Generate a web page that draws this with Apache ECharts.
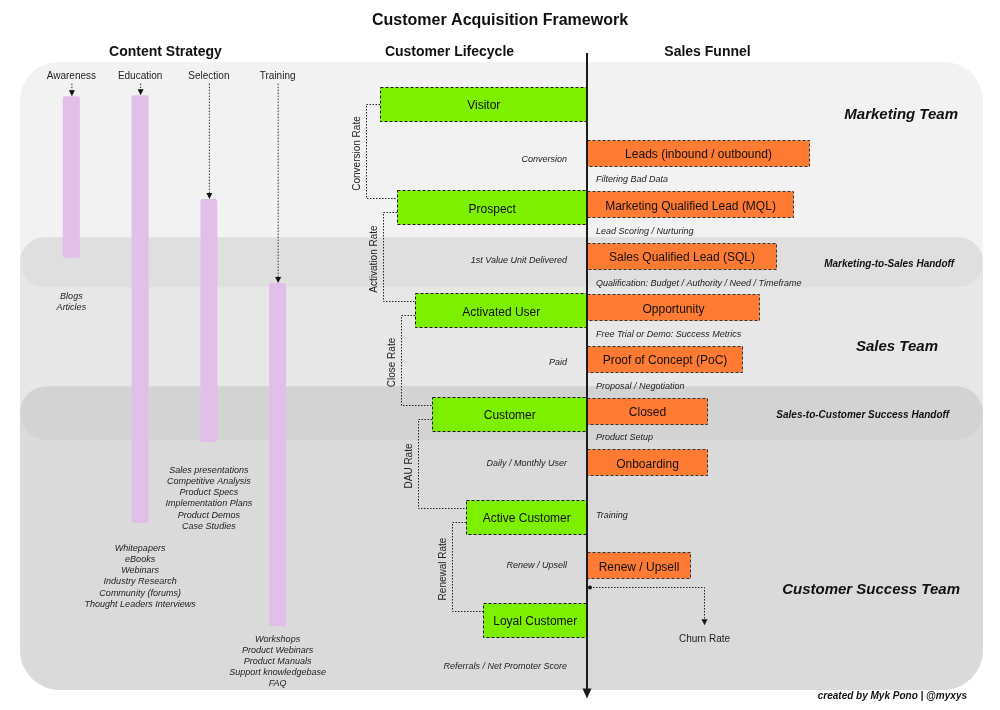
<!DOCTYPE html>
<html><head><meta charset="utf-8">
<script src="https://cdn.jsdelivr.net/npm/echarts@6/dist/echarts.min.js"></script>
<style>html,body{margin:0;padding:0;background:#fff}#c{width:1000px;height:710px}</style>
</head><body><div id="c"></div>
<script>
// ================= DATA =================
// Customer lifecycle (left of spine); rows = lifecycle steps, width = extent of the stage box
const lifecycleStages = ['Visitor', 'Prospect', 'Activated User', 'Customer', 'Active Customer', 'Loyal Customer'];
const lifecycleRows = [0, 2, 4, 6, 8, 10];
const lifecycleWidth = [207, 190, 172, 155, 121, 104];
const lifecycleRates = ['Conversion Rate', 'Activation Rate', 'Close Rate', 'DAU Rate', 'Renewal Rate'];
const lifecycleEvents = ['Conversion', '1st Value Unit Delivered', 'Paid', 'Daily / Monthly User', 'Renew / Upsell', 'Referrals / Net Promoter Score'];
const lifecycleEventRows = [1.05, 3.0, 4.98, 6.93, 8.92, 10.88];

// Sales funnel (right of spine)
const funnelStages = ['Leads (inbound / outbound)', 'Marketing Qualified Lead (MQL)', 'Sales Qualified Lead (SQL)', 'Opportunity', 'Proof of Concept (PoC)', 'Closed', 'Onboarding', 'Renew / Upsell'];
const funnelRows = [1, 2, 3, 4, 5, 6, 7, 9];
const funnelWidth = [222, 206, 189, 172, 155, 120, 120, 103];
const funnelSteps = ['Filtering Bad Data', 'Lead Scoring / Nurturing', 'Qualification: Budget / Authority / Need / Timeframe', 'Free Trial or Demo: Success Metrics', 'Proposal / Negotiation', 'Product Setup', 'Training'];
const funnelStepRows = [1.5, 2.5, 3.5, 4.5, 5.5, 6.5, 8];
const churnLabel = 'Churn Rate';
const churnRow = [9.36, 10.1];
const churnReach = 117;

// Content strategy (vertical spans in lifecycle rows)
const contentStages = ['Awareness', 'Education', 'Selection', 'Training'];
const contentStartRow = [-0.15, -0.17, 1.84, 3.47];
const contentEndRow = [2.98, 8.12, 6.55, 10.12];
const contentTopics = [
  ['Blogs', 'Articles'],
  ['Whitepapers', 'eBooks', 'Webinars', 'Industry Research', 'Community (forums)', 'Thought Leaders Interviews'],
  ['Sales presentations', 'Competitive Analysis', 'Product Specs', 'Implementation Plans', 'Product Demos', 'Case Studies'],
  ['Workshops', 'Product Webinars', 'Product Manuals', 'Support knowledgebase', 'FAQ']
];
const contentTopicRow = [3.70, 8.58, 7.07, 10.34];

// Teams and handoffs (row spans)
const teamNames = ['Marketing Team', 'Sales Team', 'Customer Success Team'];
const teamStartRow = [-0.81, 3.07, 5.99];
const handoffNames = ['Marketing-to-Sales Handoff', 'Sales-to-Customer Success Handoff'];
const handoffStartRow = [2.58, 5.47];
const handoffEndRow = [3.55, 6.51];

// ================= LAYOUT / STYLE =================
const ROW_PX = 51.6;
const Y_MIN = -104 / ROW_PX;
const Y_MAX = Y_MIN + 710 / ROW_PX;
const FONT = '"Liberation Sans", Arial, Helvetica, sans-serif';
const GREEN = '#7df000', ORANGE = '#ff7a33', PURPLE = '#e2bfe8';
const TEAM_FILL = ['#f2f2f2', '#e7e7e7', '#dadada'];
const HANDOFF_FILL = ['#dfdfdf', '#d3d3d3'];
const REGION_LEFT = -567, REGION_RIGHT = 396, REGION_BOTTOM = 11.357;
const TEAM_LABEL_RIGHT = [371, 351, 373];
const TEAM_LABEL_ROW = [0.19, 4.68, 9.39];
const HANDOFF_LABEL_RIGHT = [367, 362];
const SPINE_TOP = -0.988, SPINE_BOTTOM = 11.52;
const HEADER_ROW = -0.57;
const FUNNEL_SHIFT = -3;
const TEXT_NUDGE = 1.5;

function font(size, weight, style) {
  return (style || 'normal') + ' ' + (weight || 'normal') + ' ' + size + 'px ' + FONT;
}
function txt(text, x, y, f, align, vAlign, fill, extra) {
  const nudge = (extra && extra.rotation) ? 0 : TEXT_NUDGE;
  return Object.assign({
    type: 'text', x: x, y: y + nudge,
    style: { text: text, x: 0, y: 0, font: f, align: align, textAlign: align,
      verticalAlign: vAlign, textVerticalAlign: vAlign, fill: fill || '#111' }
  }, extra || {});
}
function arrowDown(x, tipY, w, h, color) {
  return { type: 'polygon', shape: { points: [[x - w / 2, tipY - h], [x + w / 2, tipY - h], [x, tipY]] }, style: { fill: color || '#111' } };
}
const DOT = [1.5, 1.5];

const chart = echarts.init(document.getElementById('c'), null, { renderer: 'canvas' });

const yAx = (gi) => ({ type: 'value', gridIndex: gi, inverse: true, min: Y_MIN, max: Y_MAX, show: false });

const option = {
  animation: false,
  backgroundColor: '#ffffff',
  title: {
    text: 'Customer Acquisition Framework', left: 'center', top: 8,
    textStyle: { fontSize: 16, fontWeight: 'bold', color: '#111', fontFamily: FONT }
  },
  grid: [
    { left: 0, top: 0, width: 1000, height: 710, containLabel: false },
    { left: 37, top: 0, width: 275, height: 710, containLabel: false }
  ],
  xAxis: [
    { type: 'value', gridIndex: 0, min: -587, max: 413, show: false },
    { type: 'category', gridIndex: 1, data: contentStages, boundaryGap: true, show: false }
  ],
  yAxis: [yAx(0), yAx(1)],
  graphic: [
    txt('Content Strategy', 165.5, 51, font(14, 'bold'), 'center', 'middle'),
    txt('Customer Lifecycle', 449.5, 51, font(14, 'bold'), 'center', 'middle'),
    txt('Sales Funnel', 707.5, 51, font(14, 'bold'), 'center', 'middle'),
    txt('created by Myk Pono | @myxys', 967, 695, font(10, 'bold', 'italic'), 'right', 'middle', '#111')
  ].map(g => Object.assign(g, { z: 100 })),
  series: [
    // Team regions
    {
      type: 'custom', xAxisIndex: 0, yAxisIndex: 0, z: 1, silent: true, clip: false,
      data: teamNames.map((n, i) => [REGION_LEFT, teamStartRow[i]]),
      renderItem(params, api) {
        const i = params.dataIndex;
        const a = api.coord([api.value(0), api.value(1)]);
        const b = api.coord([REGION_RIGHT, REGION_BOTTOM]);
        const l = api.coord([TEAM_LABEL_RIGHT[i], TEAM_LABEL_ROW[i]]);
        return { type: 'group', children: [
          { type: 'rect', shape: { x: a[0], y: a[1], width: b[0] - a[0], height: b[1] - a[1], r: i === 0 ? [38, 38, 40, 40] : [0, 0, 40, 40] },
            style: { fill: TEAM_FILL[i] } },
          txt(teamNames[i], l[0], l[1], font(15, 'bold', 'italic'), 'right', 'middle', '#111', { z2: 10 })
        ] };
      }
    },
    // Handoff bands
    {
      type: 'custom', xAxisIndex: 0, yAxisIndex: 0, z: 2, silent: true, clip: false,
      data: handoffNames.map((n, i) => [REGION_LEFT, handoffStartRow[i], REGION_RIGHT, handoffEndRow[i]]),
      renderItem(params, api) {
        const i = params.dataIndex;
        const a = api.coord([api.value(0), api.value(1)]);
        const b = api.coord([api.value(2), api.value(3)]);
        const h = b[1] - a[1];
        const l = api.coord([HANDOFF_LABEL_RIGHT[i], (api.value(1) + api.value(3)) / 2]);
        return { type: 'group', children: [
          { type: 'rect', shape: { x: a[0], y: a[1], width: b[0] - a[0], height: h, r: h / 2 }, style: { fill: HANDOFF_FILL[i] } },
          txt(handoffNames[i], l[0], l[1] + 1, font(10, 'bold', 'italic'), 'right', 'middle', '#111', { z2: 10 })
        ] };
      }
    },
    // Content strategy bars
    {
      type: 'custom', xAxisIndex: 1, yAxisIndex: 1, z: 3, silent: true, clip: false,
      data: contentStages.map((n, i) => [i, contentStartRow[i], contentEndRow[i], contentTopicRow[i]]),
      encode: { x: 0, y: [1, 2] },
      renderItem(params, api) {
        const i = params.dataIndex;
        const top = api.coord([api.value(0), api.value(1)]);
        const bot = api.coord([api.value(0), api.value(2)]);
        const hd = api.coord([api.value(0), HEADER_ROW]);
        const tp = api.coord([api.value(0), api.value(3)]);
        const x = top[0];
        const w = 17;
        const children = [
          txt(contentStages[i], x, hd[1], font(10), 'center', 'middle', '#222'),
          { type: 'polyline', shape: { points: [[x + 0.5, hd[1] + 9], [x + 0.5, top[1] - 5]] }, style: { stroke: '#333', lineWidth: 1, lineDash: DOT, fill: null } },
          arrowDown(x + 0.5, top[1], 6, 6, '#111'),
          { type: 'rect', shape: { x: x - w / 2, y: top[1], width: w, height: bot[1] - top[1], r: 2 }, style: { fill: PURPLE } }
        ];
        contentTopics[i].forEach((t, k) => {
          children.push(txt(t, x, tp[1] + k * 11.2, font(9, 'normal', 'italic'), 'center', 'middle', '#222'));
        });
        return { type: 'group', children };
      }
    },
    // Rate brackets
    {
      type: 'custom', xAxisIndex: 0, yAxisIndex: 0, z: 3, silent: true, clip: false,
      data: lifecycleRates.map((n, i) => [-lifecycleWidth[i], lifecycleRows[i], -lifecycleWidth[i + 1], lifecycleRows[i + 1]]),
      encode: { x: [0, 2], y: [1, 3] },
      renderItem(params, api) {
        const i = params.dataIndex;
        const p1 = api.coord([api.value(0), api.value(1)]);
        const p2 = api.coord([api.value(2), api.value(3)]);
        const bx = Math.round(p1[0] - 14) + 0.5;
        const y1 = Math.round(p1[1] + (i === 0 ? 0 : 5)) + 0.5;
        const y2 = Math.round(p2[1] - 9) + 0.5;
        return { type: 'group', children: [
          { type: 'polyline', shape: { points: [[p1[0], y1], [bx, y1], [bx, y2], [p2[0], y2]] }, style: { stroke: '#222', lineWidth: 1, lineDash: DOT, fill: null } },
          txt(lifecycleRates[i], bx - 9, (y1 + y2) / 2 + 2, font(10), 'center', 'middle', '#222', { rotation: Math.PI / 2 })
        ] };
      }
    },
    // Lifecycle event labels
    {
      type: 'custom', xAxisIndex: 0, yAxisIndex: 0, z: 4, silent: true, clip: false,
      data: lifecycleEvents.map((n, i) => [0, lifecycleEventRows[i]]),
      renderItem(params, api) {
        const p = api.coord([api.value(0), api.value(1)]);
        return txt(lifecycleEvents[params.dataIndex], p[0] - 20, p[1], font(9, 'normal', 'italic'), 'right', 'middle', '#222');
      }
    },
    // Lifecycle stage boxes
    {
      type: 'custom', xAxisIndex: 0, yAxisIndex: 0, z: 4, silent: true, clip: false,
      data: lifecycleStages.map((n, i) => [-lifecycleWidth[i], lifecycleRows[i]]),
      renderItem(params, api) {
        const i = params.dataIndex;
        const a = api.coord([api.value(0), api.value(1)]);
        const b = api.coord([0, api.value(1)]);
        const h = 34;
        const x0 = Math.round(a[0]) + 0.5, x1 = Math.round(b[0]);
        const y0 = Math.round(a[1] - h / 2) + 0.5;
        return { type: 'group', children: [
          { type: 'rect', shape: { x: x0, y: y0, width: x1 - x0, height: h }, style: { fill: GREEN, stroke: '#1a1a1a', lineWidth: 1, lineDash: [3, 2] } },
          txt(lifecycleStages[i], (x0 + x1) / 2, a[1] + 0.5, font(12), 'center', 'middle', '#111')
        ] };
      }
    },
    // Funnel boxes
    {
      type: 'custom', xAxisIndex: 0, yAxisIndex: 0, z: 4, silent: true, clip: false,
      data: funnelStages.map((n, i) => [funnelWidth[i], funnelRows[i]]),
      renderItem(params, api) {
        const i = params.dataIndex;
        const a = api.coord([0, api.value(1)]);
        const b = api.coord([api.value(0), api.value(1)]);
        const h = 26;
        const cy = a[1] + FUNNEL_SHIFT;
        const x0 = Math.round(a[0]) + 0.5, x1 = Math.round(b[0]) + 0.5;
        const y0 = Math.round(cy - h / 2) + 0.5;
        return { type: 'group', children: [
          { type: 'rect', shape: { x: x0, y: y0, width: x1 - x0, height: h }, style: { fill: ORANGE, stroke: '#333', lineWidth: 1, lineDash: [3, 2] } },
          txt(funnelStages[i], (x0 + x1) / 2, cy + 0.5, font(12), 'center', 'middle', '#111')
        ] };
      }
    },
    // Funnel step labels
    {
      type: 'custom', xAxisIndex: 0, yAxisIndex: 0, z: 4, silent: true, clip: false,
      data: funnelSteps.map((n, i) => [0, funnelStepRows[i]]),
      renderItem(params, api) {
        const p = api.coord([api.value(0), api.value(1)]);
        return txt(funnelSteps[params.dataIndex], p[0] + 9, p[1] + FUNNEL_SHIFT, font(9, 'normal', 'italic'), 'left', 'middle', '#222');
      }
    },
    // Churn
    {
      type: 'custom', xAxisIndex: 0, yAxisIndex: 0, z: 4, silent: true, clip: false,
      data: [[churnReach, churnRow[0], churnRow[1]]],
      encode: { x: 0, y: [1, 2] },
      renderItem(params, api) {
        const s = api.coord([0, api.value(1)]);
        const e = api.coord([api.value(0), api.value(2)]);
        const y = Math.round(s[1]) + 0.5;
        const ex = Math.round(e[0]) + 0.5;
        return { type: 'group', children: [
          { type: 'circle', shape: { cx: s[0] + 3, cy: y, r: 2 }, style: { fill: '#111' } },
          { type: 'polyline', shape: { points: [[s[0] + 3, y], [ex, y], [ex, e[1] - 5]] }, style: { stroke: '#222', lineWidth: 1, lineDash: DOT, fill: null } },
          arrowDown(ex, e[1], 6, 6, '#111'),
          txt(churnLabel, ex, e[1] + 13, font(10), 'center', 'middle', '#222')
        ] };
      }
    },
    // Spine
    {
      type: 'custom', xAxisIndex: 0, yAxisIndex: 0, z: 5, silent: true, clip: false,
      data: [[0, SPINE_TOP, SPINE_BOTTOM]],
      encode: { x: 0, y: [1, 2] },
      renderItem(params, api) {
        const t = api.coord([api.value(0), api.value(1)]);
        const b = api.coord([api.value(0), api.value(2)]);
        return { type: 'group', children: [
          { type: 'line', shape: { x1: t[0], y1: t[1], x2: t[0], y2: b[1] - 8 }, style: { stroke: '#1a1a1a', lineWidth: 2 } },
          arrowDown(t[0], b[1], 9, 10, '#1a1a1a')
        ] };
      }
    }
  ]
};
chart.setOption(option);
</script>
</body></html>
